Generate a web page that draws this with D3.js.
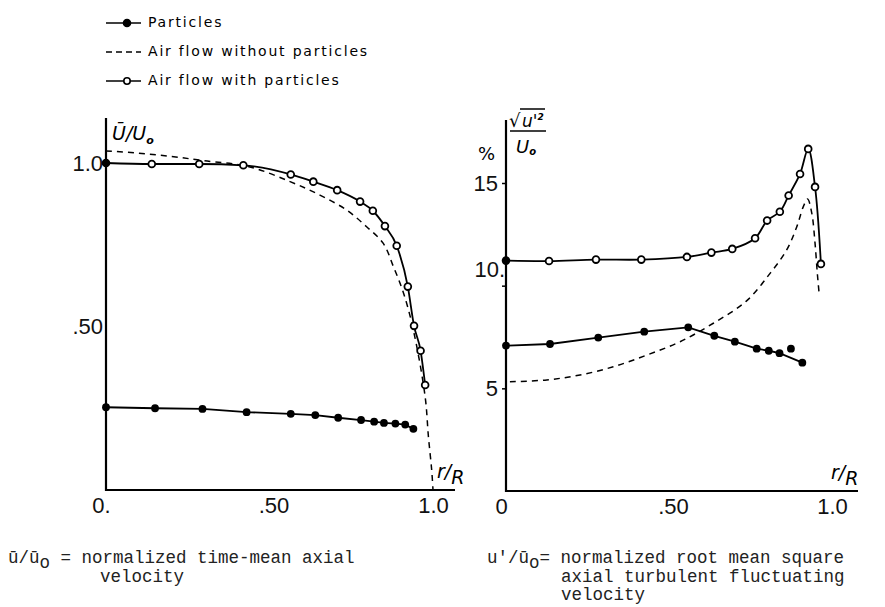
<!DOCTYPE html>
<html>
<head>
<meta charset="utf-8">
<script src="https://cdn.jsdelivr.net/npm/d3@7"></script>
<style>
body { margin: 0; background: #fff; }
svg { display: block; }
</style>
</head>
<body>
<div id="chart"></div>
<script>
// left panel: normalized time-mean axial velocity
var rPartL = [0, .15, .295, .43, .565, .64, .71, .78, .82, .85, .885, .915, .94];
var uPartL = [.253, .250, .248, .238, .233, .229, .221, .214, .209, .205, .203, .200, .187];
var rWithL = [0, .14, .285, .42, .565, .634, .707, .777, .816, .853, .889, .923, .942, .962, .976];
var uWithL = [1.0, .997, .997, .993, .965, .943, .917, .882, .854, .807, .747, .622, .502, .426, .321];
var rNoL = [0, .1, .2, .3, .44, .563, .654, .736, .797, .848, .879, .91, .94, .976, .986, .996, 1.0];
var uNoL = [1.037, 1.03, 1.02, 1.007, .988, .943, .902, .856, .805, .754, .683, .602, .489, .285, .163, .061, 0];

// right panel: turbulence intensity, %
var rPartR = [0, .135, .283, .424, .559, .639, .702, .769, .806, .839, .909];
var vPartR = [7.08, 7.16, 7.47, 7.76, 7.97, 7.56, 7.27, 6.93, 6.83, 6.71, 6.25];
var rPartRStray = [.874];
var vPartRStray = [6.93];
var rWithR = [0, .132, .276, .415, .555, .63, .694, .764, .801, .84, .867, .902, .927, .948, .966];
var vWithR = [11.22, 11.2, 11.27, 11.27, 11.4, 11.61, 11.79, 12.31, 13.17, 13.6, 14.39, 15.44, 16.66, 14.81, 11.06];
var rNoR = [.012, .125, .227, .329, .432, .534, .636, .738, .81, .861, .892, .912, .925, .938, .948, .955, .96];
var vNoR = [5.32, 5.41, 5.65, 6.05, 6.62, 7.27, 8.17, 9.26, 10.6, 11.74, 12.87, 13.85, 14.22, 13.53, 12.06, 10.6, 9.71];

var xTicks = [0, .5, 1];
var xTickLabelsL = ['0.', '.50', '1.0'];
var xTickLabelsR = ['0', '.50', '1.0'];
var yTicksL = [.5, 1];
var yTickLabelsL = ['.50', '1.0'];
var yTicksR = [5, 10, 15];
var yTickLabelsR = ['5', '10.', '15'];

var legendNames = ['Particles', 'Air flow without particles', 'Air flow with particles'];

var zip = (xs, ys) => xs.map((x, i) => [x, ys[i]]);

var svg = d3.select('#chart').append('svg')
	.attr('width', 885)
	.attr('height', 607);

var xL = d3.scaleLinear().domain([0, 1]).range([106, 433]);
var yL = d3.scaleLinear().domain([0, 1]).range([490, 163]);
var xR = d3.scaleLinear().domain([0, 1]).range([506, 832]);
var yR = d3.scaleLinear().domain([0, 15]).range([491, 183]);

var tickFont = 'Liberation Sans, Arial, sans-serif';

function drawFrame(x, y, xTop, xRight, xLabels, yTicks, yLabels, yTickSize) {
	var x0 = x(0), y0 = y(0);
	svg.append('line').attr('x1', x0).attr('y1', y0 + 1).attr('x2', x0).attr('y2', xTop)
		.attr('stroke', '#000').attr('stroke-width', 2.2);
	svg.append('line').attr('x1', x0 - 1).attr('y1', y0).attr('x2', xRight).attr('y2', y0)
		.attr('stroke', '#000').attr('stroke-width', 2.2);

	var gx = svg.append('g')
		.attr('transform', `translate(0, ${y0})`)
		.call(d3.axisBottom(x).tickValues(xTicks).tickFormat((d, i) => xLabels[i]).tickSize(0).tickPadding(7));
	gx.select('.domain').remove();
	gx.selectAll('text')
		.attr('font-family', tickFont).attr('font-size', 22).attr('fill', '#111')
		.attr('dx', (d, i) => i == 0 ? -5 : (i == 1 ? 4 : 0));

	var gy = svg.append('g')
		.attr('transform', `translate(${x0}, 0)`)
		.call(d3.axisLeft(y).tickValues(yTicks).tickFormat((d, i) => yLabels[i]).tickSize(yTickSize).tickPadding(yTickSize ? 4 : 3));
	gy.select('.domain').remove();
	gy.selectAll('line').attr('stroke', '#000').attr('stroke-width', 1.5);
	gy.selectAll('text')
		.attr('font-family', tickFont).attr('font-size', 22).attr('fill', '#111');
	return gy;
}

drawFrame(xL, yL, 118, 455, xTickLabelsL, yTicksL, yTickLabelsL, 0);
var gyR = drawFrame(xR, yR, 120, 858, xTickLabelsR, yTicksR, yTickLabelsR, 4);
// the "10." label sits higher than its tick in the original drawing
gyR.selectAll('text').filter(d => d == 10).attr('dy', '-0.4em').attr('x', -1);

function drawLine(x, y, pts, curve, dashed) {
	var line = d3.line().x(d => x(d[0])).y(d => y(d[1])).curve(curve);
	svg.append('path')
		.attr('d', line(pts))
		.attr('fill', 'none')
		.attr('stroke', '#000')
		.attr('stroke-width', dashed ? 1.5 : 1.8)
		.attr('stroke-dasharray', dashed ? '6,5' : null);
}

function drawDots(x, y, pts, open) {
	svg.append('g').selectAll('circle')
		.data(pts)
		.enter()
		.append('circle')
		.attr('cx', d => x(d[0]))
		.attr('cy', d => y(d[1]))
		.attr('r', open ? 3.4 : 3.9)
		.attr('fill', d => open && d[0] > 0 ? '#fff' : '#000')
		.attr('stroke', '#000')
		.attr('stroke-width', open ? 1.8 : 0);
}

// left panel
drawLine(xL, yL, zip(rNoL, uNoL), d3.curveCatmullRom, true);
drawLine(xL, yL, zip(rWithL, uWithL), d3.curveMonotoneX, false);
drawLine(xL, yL, zip(rPartL, uPartL), d3.curveLinear, false);
drawDots(xL, yL, zip(rWithL, uWithL), true);
drawDots(xL, yL, zip(rPartL, uPartL), false);

// right panel
drawLine(xR, yR, zip(rNoR, vNoR), d3.curveCatmullRom, true);
drawLine(xR, yR, zip(rWithR, vWithR), d3.curveCatmullRom.alpha(0.5), false);
drawLine(xR, yR, zip(rPartR, vPartR), d3.curveLinear, false);
drawDots(xR, yR, zip(rWithR, vWithR), true);
drawDots(xR, yR, zip(rPartR, vPartR), false);
drawDots(xR, yR, zip(rPartRStray, vPartRStray), false);

// axis titles
var labFont = 'DejaVu Sans, sans-serif';
var tl = svg.append('text').attr('x', 112).attr('y', 140)
	.attr('font-family', labFont).attr('font-size', 19).attr('font-style', 'italic');
tl.append('tspan').text('Ū/U');
tl.append('tspan').attr('dy', 4).attr('font-size', 11).attr('font-weight', 'bold').text('o');

svg.append('text').attr('x', 478).attr('y', 160)
	.attr('font-family', labFont).attr('font-size', 18).text('%');
svg.append('text').attr('x', 509).attr('y', 127)
	.attr('font-family', labFont).attr('font-size', 18).text('√');
svg.append('line').attr('x1', 520).attr('y1', 109).attr('x2', 545).attr('y2', 109)
	.attr('stroke', '#000').attr('stroke-width', 1.5);
var tn = svg.append('text').attr('x', 522).attr('y', 127)
	.attr('font-family', labFont).attr('font-size', 17).attr('font-style', 'italic');
tn.append('tspan').text('u\'');
tn.append('tspan').attr('dy', -7).attr('font-size', 9).attr('font-weight', 'bold').text('2');
svg.append('line').attr('x1', 510).attr('y1', 131).attr('x2', 546).attr('y2', 131)
	.attr('stroke', '#000').attr('stroke-width', 1.5);
var td = svg.append('text').attr('x', 516).attr('y', 153)
	.attr('font-family', labFont).attr('font-size', 18).attr('font-style', 'italic');
td.append('tspan').text('U');
td.append('tspan').attr('dy', 2).attr('font-size', 10).attr('font-weight', 'bold').text('o');

[[xL, yL, 437], [xR, yR, 831]].forEach(p => {
	var t = svg.append('text').attr('x', p[2]).attr('y', p[1](0) - 12)
		.attr('font-family', labFont).attr('font-size', 19).attr('font-style', 'italic');
	t.append('tspan').text('r/');
	t.append('tspan').attr('dy', 6).text('R');
});

// legend
var legend = svg.append('g').selectAll('g')
	.data(legendNames)
	.enter()
	.append('g')
	.attr('transform', (d, i) => `translate(0, ${23 + i * 29})`);
legend.append('line')
	.attr('x1', 106).attr('x2', 141).attr('y1', 0).attr('y2', 0)
	.attr('stroke', '#000').attr('stroke-width', 1.6)
	.attr('stroke-dasharray', (d, i) => i == 1 ? '6,4' : null);
legend.filter((d, i) => i != 1).append('circle')
	.attr('cx', 127).attr('cy', 0)
	.attr('r', (d, i) => i == 0 ? 3.5 : 3.2)
	.attr('fill', (d, i) => i == 0 ? '#000' : '#fff')
	.attr('stroke', '#000').attr('stroke-width', 1.6);
legend.append('text')
	.attr('x', 148).attr('y', 4)
	.attr('font-family', labFont).attr('font-size', 14).attr('letter-spacing', 1.8)
	.text(d => d);

// captions
var capFont = 'Liberation Mono, Courier New, monospace';
var c1 = svg.append('text').attr('x', 8).attr('y', 563)
	.attr('font-family', capFont).attr('font-size', 17.5).attr('fill', '#222');
c1.append('tspan').text('ū/ū');
c1.append('tspan').attr('dy', 5).text('o');
c1.append('tspan').attr('dy', -5).text(' = normalized time-mean axial');
c1.append('tspan').attr('x', 100).attr('dy', 18.5).text('velocity');

var c2 = svg.append('text').attr('x', 487).attr('y', 563)
	.attr('font-family', capFont).attr('font-size', 17.5).attr('fill', '#222');
c2.append('tspan').text('u\'/ū');
c2.append('tspan').attr('dy', 5).text('o');
c2.append('tspan').attr('dy', -5).text('= normalized root mean square');
c2.append('tspan').attr('x', 561).attr('dy', 18.5).text('axial turbulent fluctuating');
c2.append('tspan').attr('x', 561).attr('dy', 18.5).text('velocity');
</script>
</body>
</html>
